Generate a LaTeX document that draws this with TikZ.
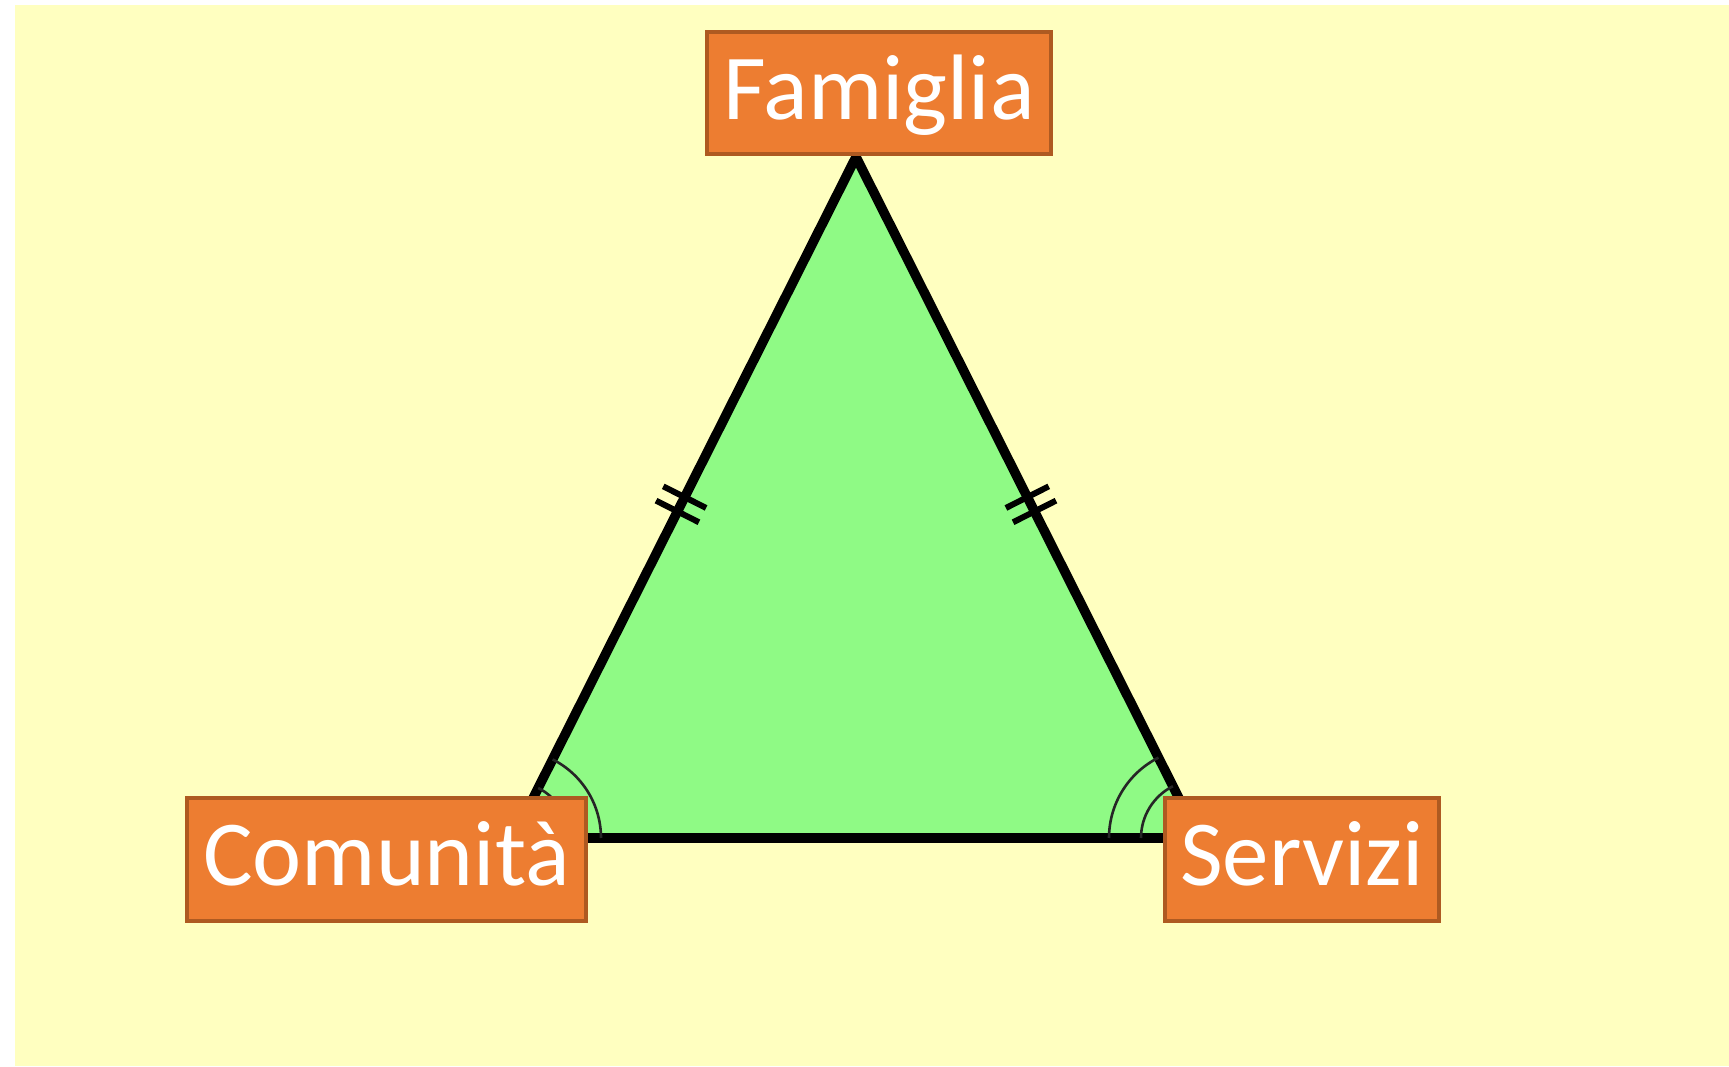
\documentclass[tikz,border=0pt]{standalone}
\usepackage{fontspec}
\setmainfont{Carlito}
\usetikzlibrary{calc}
\definecolor{bgyellow}{HTML}{FFFFC0}
\definecolor{trigreen}{HTML}{8FFA85}
\definecolor{boxorange}{HTML}{ED7D31}
\definecolor{boxborder}{HTML}{AE5A21}
\tikzset{
  labelbox/.style={draw=boxborder, fill=boxorange, line width=2pt, text=white,
    inner sep=0pt, text height=43.5pt, text depth=17.5pt,
    font=\fontsize{46.5}{55}\selectfont},
  side/.style={line width=4.8pt, line join=miter, draw=black},
  anglearc/.style={line width=1.3pt, draw=black!85},
  tick/.style={line width=3pt, draw=black}
}
\begin{document}
\begin{tikzpicture}[x=0.5pt,y=0.5pt]
\useasboundingbox (0,0) rectangle (1729,1066);
\fill[bgyellow] (15,0) rectangle (1729,1061);
\coordinate (A) at (513,228);
\coordinate (B) at (1199,228);
\coordinate (C) at (856,909);
\filldraw[side, fill=trigreen] (A) -- (B) -- (C) -- cycle;
% angle arcs
\draw[anglearc] ($(A)+(88,0)$) arc[start angle=0, end angle=63.26, radius=88];
\draw[anglearc] ($(A)+(56,0)$) arc[start angle=0, end angle=63.26, radius=56];
\draw[anglearc] ($(B)+(-90,0)$) arc[start angle=180, end angle=116.74, radius=90];
\draw[anglearc] ($(B)+(-58,0)$) arc[start angle=180, end angle=116.74, radius=58];
% tick marks
\coordinate (MAC) at ($(A)!0.49!(C)$);
\coordinate (MBC) at ($(B)!0.49!(C)$);
\draw[tick, shift={(MAC)}, rotate=63.26] (-8,-24) -- (-8,24) (8,-24) -- (8,24);
\draw[tick, shift={(MBC)}, rotate=116.74] (-8,-24) -- (-8,24) (8,-24) -- (8,24);
% labels
\node[labelbox, minimum width=172pt] (fam) at (879,972.5) {Famiglia};
\node[labelbox, minimum width=199.5pt] (com) at (386.5,206.5) {Comunità};
\node[labelbox, minimum width=137pt] (ser) at (1302,206.5) {Servizi};
\end{tikzpicture}
\end{document}
